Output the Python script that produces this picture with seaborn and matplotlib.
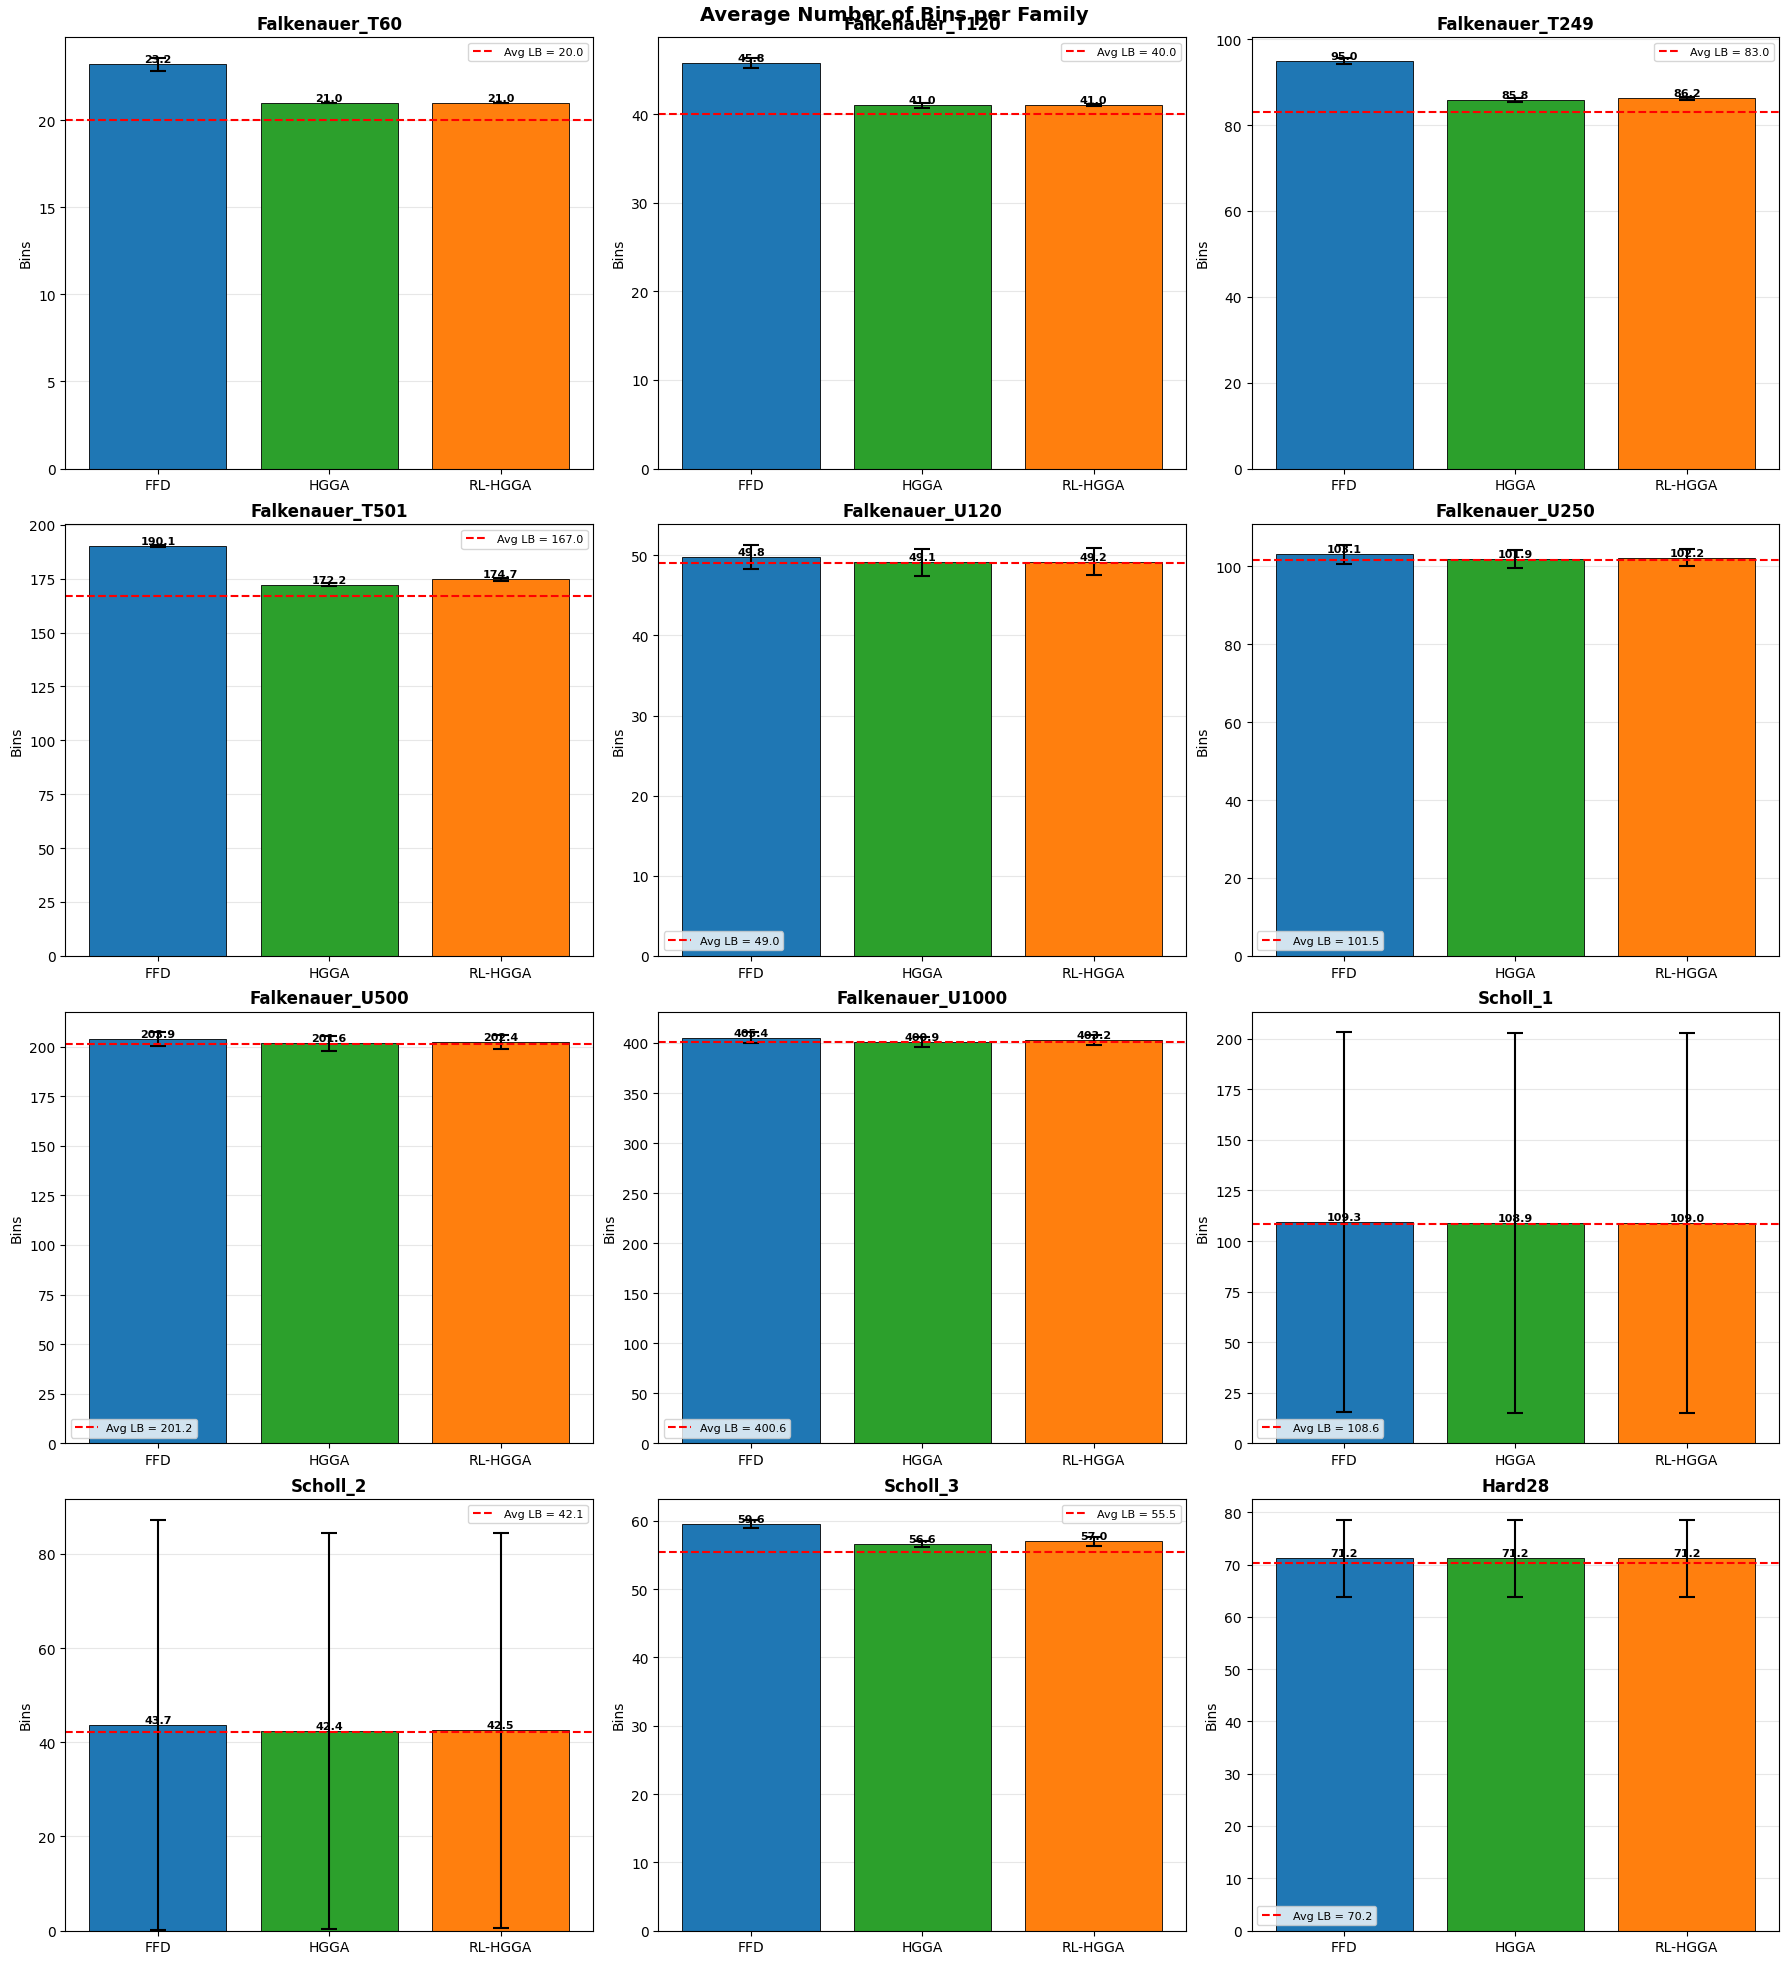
import matplotlib
matplotlib.use("Agg")
import matplotlib.pyplot as plt
import seaborn as sns
import pandas as pd
import numpy as np

methods = ["FFD", "HGGA", "RL-HGGA"]
colors = ["#1f77b4", "#2ca02c", "#ff7f0e"]

families = ["Falkenauer_T60", "Falkenauer_T120", "Falkenauer_T249",
            "Falkenauer_T501", "Falkenauer_U120", "Falkenauer_U250",
            "Falkenauer_U500", "Falkenauer_U1000", "Scholl_1",
            "Scholl_2", "Scholl_3", "Hard28"]

means_ffd = [23.2, 45.8, 95.0, 190.1, 49.8, 103.1, 203.9, 405.4, 109.3, 43.7, 59.6, 71.2]
means_hgga = [21.0, 41.0, 85.8, 172.2, 49.1, 101.9, 201.6, 400.9, 108.9, 42.4, 56.6, 71.2]
means_rl = [21.0, 41.0, 86.2, 174.7, 49.2, 102.2, 202.4, 403.2, 109.0, 42.5, 57.0, 71.2]

std_ffd = [0.4, 0.6, 0.75, 0.6, 1.5, 2.4, 3.4, 5.4, 94.0, 43.6, 0.6, 7.4]
std_hgga = [0.0, 0.3, 0.5, 0.7, 1.7, 2.4, 3.7, 4.7, 94.0, 42.0, 0.45, 7.4]
std_rl = [0.0, 0.1, 0.45, 0.7, 1.65, 2.2, 3.7, 4.8, 94.0, 42.0, 0.65, 7.4]

avg_lb = [20.0, 40.0, 83.0, 167.0, 49.0, 101.5, 201.2, 400.6, 108.6, 42.1, 55.5, 70.2]

legend_locs = ["upper right", "upper right", "upper right",
               "upper right", "lower left", "lower left",
               "lower left", "lower left", "lower left",
               "upper right", "upper right", "lower left"]

fig, axes = plt.subplots(4, 3, figsize=(17.89, 19.65), dpi=100)
axes = axes.flatten()

for i, fam in enumerate(families):
    ax = axes[i]
    m = [means_ffd[i], means_hgga[i], means_rl[i]]
    s = [std_ffd[i], std_hgga[i], std_rl[i]]
    df = pd.DataFrame({"Method": methods, "Bins": m})
    sns.barplot(data=df, x="Method", y="Bins", hue="Method", palette=colors,
                order=methods, hue_order=methods, legend=False, ax=ax,
                edgecolor="black", linewidth=0.6, saturation=1, width=0.8, errorbar=None)
    xs = np.arange(len(methods))
    ax.errorbar(xs, m, yerr=s, fmt="none", ecolor="black", capsize=6, elinewidth=1.5, capthick=1.5)
    for x, v in zip(xs, m):
        ax.text(x, v, f"{v:.1f}", ha="center", va="bottom", fontsize=8, fontweight="bold")
    ax.axhline(avg_lb[i], color="red", linestyle="--", linewidth=1.5, label=f"Avg LB = {avg_lb[i]:.1f}")
    ax.legend(fontsize=8, loc=legend_locs[i])
    ax.set_title(fam, fontsize=12, fontweight="bold")
    ax.set_xlabel("")
    ax.set_ylabel("Bins")
    ax.grid(axis="y", alpha=0.3)
    ax.set_axisbelow(True)
    ax.tick_params(axis="x", labelsize=10)

plt.tight_layout(pad=0.7, rect=(0, 0, 1, 0.997))
fig.suptitle("Average Number of Bins per Family", fontsize=14, fontweight="bold", y=0.997, va="top")
fig.savefig("out.png", dpi=100)
